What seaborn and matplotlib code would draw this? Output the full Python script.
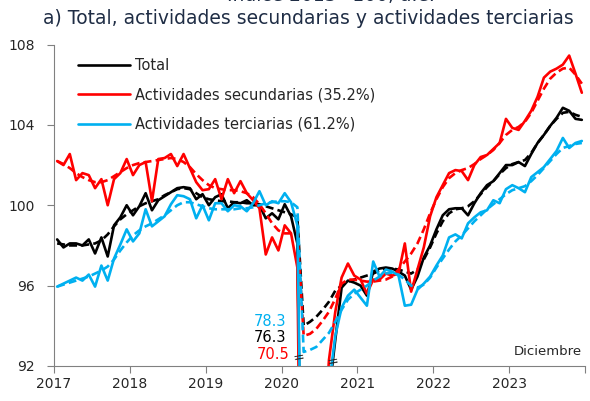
import matplotlib
matplotlib.use("Agg")
import matplotlib.pyplot as plt
import seaborn as sns
import numpy as np
import pandas as pd

# Monthly data, Jan 2017 - Dec 2023 (Indice 2013=100, a.e.)
years = ["2017", "2018", "2019", "2020", "2021", "2022", "2023"]

total = [
    98.3, 97.9, 98.1, 98.1, 98.0, 98.3, 97.6, 98.4, 97.45, 99.0, 99.4, 100.0,
    99.5, 99.95, 100.6, 99.75, 100.25, 100.45, 100.65, 100.85, 100.9, 100.85, 100.3, 100.55,
    100.0, 100.4, 100.55, 99.85, 100.15, 100.1, 100.25, 100.0, 100.0, 99.35, 99.6, 99.3,
    100.05, 99.45, 98.1, 76.3, 74.9, 81.8, 86.6, 90.6, 93.3, 95.9, 96.25, 96.15,
    96.0, 95.5, 96.7, 96.85, 96.9, 96.85, 96.7, 96.5, 95.8, 96.45, 97.4, 98.0,
    98.8, 99.5, 99.8, 99.85, 99.85, 99.5, 100.1, 100.6, 101.0, 101.2, 101.6, 102.0,
    102.0, 102.15, 101.95, 102.55, 103.1, 103.5, 103.95, 104.35, 104.85, 104.7, 104.3, 104.25,
]
secundarias = [
    102.2, 102.0, 102.55, 101.25, 101.6, 101.5, 100.85, 101.3, 100.0, 101.3, 101.6, 102.3,
    101.5, 102.0, 102.15, 100.2, 102.3, 102.35, 102.55, 101.95, 102.55, 101.85, 101.15, 100.75,
    100.8, 101.3, 100.3, 101.3, 100.6, 101.2, 100.6, 100.25, 99.85, 97.55, 98.4, 97.75,
    99.0, 98.6, 96.9, 70.5, 71.0, 80.0, 87.5, 92.3, 94.7, 96.4, 97.1, 96.5,
    96.3, 95.6, 96.3, 96.3, 96.6, 96.5, 96.6, 98.1, 95.7, 96.8, 97.9, 99.45,
    100.4, 101.0, 101.6, 101.75, 101.7, 101.25, 102.0, 102.4, 102.5, 102.8, 103.1, 104.3,
    103.85, 103.75, 104.2, 104.7, 105.4, 106.35, 106.65, 106.8, 107.0, 107.45, 106.55, 105.6,
]
terciarias = [
    95.95, 96.1, 96.25, 96.4, 96.25, 96.55, 95.95, 97.0, 96.25, 97.35, 98.05, 98.8,
    98.2, 98.6, 99.8, 98.95, 99.2, 99.45, 100.05, 100.5, 100.45, 100.3, 99.35, 100.0,
    99.25, 100.1, 100.1, 99.7, 100.0, 99.95, 99.7, 100.1, 100.7, 100.0, 100.2, 100.1,
    100.6, 100.15, 99.0, 78.3, 77.5, 83.0, 87.6, 91.0, 93.5, 94.9, 95.5, 95.8,
    95.4, 95.0, 97.2, 96.45, 96.8, 96.7, 96.5, 95.0, 95.05, 95.8, 96.1, 96.45,
    97.0, 97.5, 98.4, 98.55, 98.35, 99.1, 99.4, 99.65, 99.75, 100.25, 100.1, 100.8,
    101.0, 100.85, 100.65, 101.4, 101.65, 101.9, 102.3, 102.7, 103.35, 102.85, 103.1, 103.2,
]

# Trend-cycle (dashed)
total_tend = [
    98.1, 98.05, 98.0, 98.0, 98.0, 98.05, 98.1, 98.25, 98.55, 98.95, 99.3, 99.55,
    99.75, 99.95, 100.1, 100.2, 100.3, 100.5, 100.65, 100.8, 100.85, 100.8, 100.6, 100.4,
    100.3, 100.25, 100.2, 100.2, 100.15, 100.15, 100.1, 100.1, 100.05, 99.95, 99.85, 99.75,
    99.65, 99.55, 99.4, 94.0, 94.2, 94.45, 94.8, 95.2, 95.75, 96.0, 96.2, 96.3,
    96.4, 96.5, 96.6, 96.75, 96.85, 96.85, 96.8, 96.7, 96.6, 96.8, 97.3, 97.9,
    98.6, 99.2, 99.6, 99.8, 99.85, 99.95, 100.2, 100.55, 100.9, 101.2, 101.55, 101.85,
    102.05, 102.15, 102.25, 102.6, 103.1, 103.5, 103.95, 104.3, 104.6, 104.65, 104.5, 104.4,
]
secundarias_tend = [
    102.2, 102.05, 101.85, 101.6, 101.4, 101.25, 101.15, 101.15, 101.25, 101.45, 101.65, 101.85,
    102.0, 102.1, 102.15, 102.2, 102.25, 102.3, 102.35, 102.3, 102.15, 101.9, 101.55, 101.25,
    101.0, 100.85, 100.8, 100.75, 100.75, 100.7, 100.6, 100.4, 100.05, 99.6, 99.1, 98.75,
    98.6, 98.6, 98.7, 93.5, 93.6, 93.85, 94.25, 94.7, 95.35, 96.1, 96.3, 96.3,
    96.25, 96.2, 96.2, 96.25, 96.3, 96.45, 96.8, 97.2, 97.6, 98.1, 98.8, 99.6,
    100.3, 100.9, 101.35, 101.6, 101.75, 101.85, 102.05, 102.3, 102.5, 102.75, 103.1, 103.5,
    103.75, 103.9, 104.15, 104.6, 105.2, 105.8, 106.3, 106.6, 106.8, 106.85, 106.5, 106.05,
]
terciarias_tend = [
    95.95, 96.05, 96.15, 96.25, 96.35, 96.45, 96.6, 96.75, 96.95, 97.3, 97.75, 98.15,
    98.5, 98.75, 98.95, 99.1, 99.3, 99.5, 99.75, 100.0, 100.15, 100.15, 100.05, 99.95,
    99.85, 99.8, 99.8, 99.8, 99.8, 99.85, 99.85, 99.9, 100.0, 100.1, 100.15, 100.2,
    100.2, 100.15, 99.9, 92.7, 92.8, 92.95, 93.3, 93.65, 94.2, 94.8, 95.3, 95.6,
    95.8, 96.0, 96.25, 96.45, 96.6, 96.65, 96.55, 96.3, 96.0, 95.9, 96.05, 96.4,
    96.9, 97.35, 97.8, 98.2, 98.5, 98.85, 99.2, 99.5, 99.8, 100.05, 100.3, 100.55,
    100.75, 100.85, 100.95, 101.2, 101.5, 101.85, 102.2, 102.55, 102.85, 102.95, 103.05, 103.1,
]

labels = ["Total", "Actividades secundarias (35.2%)", "Actividades terciarias (61.2%)"]
colors = ["black", "#FF0000", "#00B0F0"]

pos = np.arange(len(total))
april = 39  # abril 2020

sns.set_style("white")
plt.rcParams["font.family"] = ["DejaVu Sans"]

fig = plt.figure(figsize=(5.9, 4.01), dpi=100)
ax = fig.add_axes([0.0915, 0.0873, 0.9, 0.8017])

series = [(total, total_tend), (secundarias, secundarias_tend), (terciarias, terciarias_tend)]
for (vals, tend), col, lab in zip(series, colors, labels):
    sns.lineplot(x=pos, y=tend, color=col, lw=1.9, linestyle=(0, (3, 1.6)), ax=ax)
    sns.lineplot(x=pos, y=vals, color=col, lw=1.9, ax=ax, label=lab)

ax.set_xlim(-0.5, len(total) - 0.5)
ax.set_ylim(92, 108)
ax.set_yticks([92, 96, 100, 104, 108])
ax.set_xticks(np.arange(-0.5, len(total), 12))
ax.set_xticklabels(years + [""])
ax.tick_params(axis="both", direction="out", length=5, width=0.8, color="#808080",
               labelsize=10, bottom=True, left=True)
ax.tick_params(axis="y", pad=9)
ax.tick_params(axis="x", pad=3)
ax.set_xlabel("")
ax.set_ylabel("")
for s in ["top", "right"]:
    ax.spines[s].set_visible(False)
for s in ["left", "bottom"]:
    ax.spines[s].set_color("#808080")
    ax.spines[s].set_linewidth(0.8)

ax.legend(loc="upper left", bbox_to_anchor=(0.02, 1.0), frameon=False,
          fontsize=10.5, handlelength=3.6, handletextpad=0.3, labelspacing=1.0)

# April 2020 values (off scale)
ax.text(april - 2.8, 94.2, f"{terciarias[april]:.1f}", color=colors[2], ha="right", va="center", fontsize=10.5)
ax.text(april - 2.8, 93.4, f"{total[april]:.1f}", color=colors[0], ha="right", va="center", fontsize=10.5)
ax.text(april - 2.2, 92.55, f"{secundarias[april]:.1f}", color=colors[1], ha="right", va="center", fontsize=10.5)
ax.text(april - 0.7, 92.35, "=", ha="center", va="center", fontsize=10, rotation=10)
ax.text(april + 4.7, 92.15, "=", ha="center", va="center", fontsize=10, rotation=10)

ax.text(0.995, 0.025, "Diciembre", transform=ax.transAxes, ha="right", va="bottom", fontsize=9.5)

fig.text(0.073, 0.955, "a) Total, actividades secundarias y actividades terciarias",
         ha="left", va="center", fontsize=13.5, color="#1F2D45")
fig.text(0.56, 1.012, "Índice 2013=100, a.e.", ha="center", va="center", fontsize=13.5, color="#1F2D45")

fig.savefig("out.png", dpi=100)
